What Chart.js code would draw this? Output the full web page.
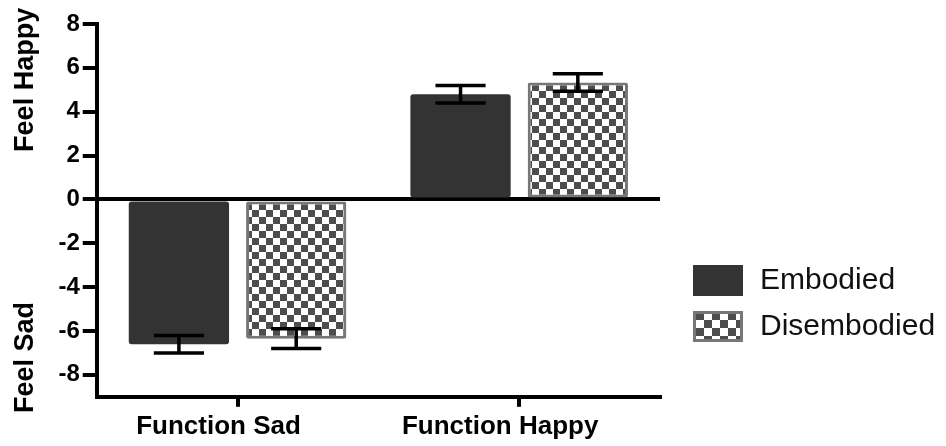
<!DOCTYPE html>
<html>
<head>
<meta charset="utf-8">
<script src="https://cdn.jsdelivr.net/npm/chart.js@4.4.1/dist/chart.umd.min.js"></script>
<style>
  html, body { margin: 0; padding: 0; background: #fff; }
  #wrap { width: 946px; height: 446px; }
</style>
</head>
<body>
<div id="wrap"><canvas id="chart" width="946" height="446"></canvas></div>
<script>
const categories = ['Function Sad', 'Function Happy'];
const embodied = [-6.6, 4.8];
const embodiedErr = [0.4, 0.4];
const disembodied = [-6.35, 5.33];
const disembodiedErr = [0.45, 0.4];
const yTicks = [-8, -6, -4, -2, 0, 2, 4, 6, 8];

function checker(size, dark) {
  const c = document.createElement('canvas');
  c.width = size * 2; c.height = size * 2;
  const g = c.getContext('2d');
  g.fillStyle = '#fff';
  g.fillRect(0, 0, size * 2, size * 2);
  g.fillStyle = dark;
  g.fillRect(0, 0, size, size);
  g.fillRect(size, size, size, size);
  return document.getElementById('chart').getContext('2d').createPattern(c, 'repeat');
}
const barPattern = checker(7, '#4d4d4d');
const legendPattern = checker(8, '#4d4d4d');

const errorBars = {
  id: 'errorBars',
  afterDatasetsDraw(chart) {
    const ctx = chart.ctx, y = chart.scales.y;
    const errs = [embodiedErr, disembodiedErr];
    ctx.save();
    ctx.strokeStyle = '#000';
    ctx.lineWidth = 3.5;
    chart.data.datasets.forEach((ds, i) => {
      chart.getDatasetMeta(i).data.forEach((bar, j) => {
        const v = ds.data[j], e = errs[i][j];
        const top = y.getPixelForValue(v + e), bot = y.getPixelForValue(v - e);
        const hw = bar.width * 0.25;
        ctx.beginPath();
        ctx.moveTo(bar.x, top); ctx.lineTo(bar.x, bot);
        ctx.moveTo(bar.x - hw, top); ctx.lineTo(bar.x + hw, top);
        ctx.moveTo(bar.x - hw, bot); ctx.lineTo(bar.x + hw, bot);
        ctx.stroke();
      });
    });
    ctx.restore();
  }
};

const sideLegend = {
  id: 'sideLegend',
  afterDraw(chart) {
    const ctx = chart.ctx;
    const x0 = chart.chartArea.right + 33;
    let y0 = 265;
    ctx.save();
    chart.data.datasets.forEach((ds, i) => {
      if (i === 0) {
        ctx.fillStyle = ds.backgroundColor;
        ctx.fillRect(x0, y0, 50, 31);
      } else {
        ctx.fillStyle = legendPattern;
        ctx.fillRect(x0, y0, 50, 31);
        ctx.strokeStyle = ds.borderColor;
        ctx.lineWidth = 3;
        ctx.strokeRect(x0 + 1.5, y0 + 1.5, 47, 28);
      }
      ctx.fillStyle = '#111';
      ctx.font = '30px "Liberation Sans", Arial, sans-serif';
      ctx.textBaseline = 'middle';
      ctx.fillText(ds.label, x0 + 67, y0 + 16);
      y0 += 46;
    });
    ctx.restore();
  }
};

new Chart(document.getElementById('chart'), {
  type: 'bar',
  data: {
    labels: categories,
    datasets: [
      {
        label: 'Embodied',
        data: embodied,
        backgroundColor: '#333333',
        borderWidth: 0,
        borderRadius: 3,
        borderSkipped: false
      },
      {
        label: 'Disembodied',
        data: disembodied,
        backgroundColor: barPattern,
        borderColor: '#777777',
        borderWidth: 3,
        borderRadius: 2,
        borderSkipped: false
      }
    ]
  },
  options: {
    responsive: false,
    animation: false,
    categoryPercentage: 0.833,
    barPercentage: 0.855,
    layout: { padding: { top: 24, right: 286, bottom: 0, left: 9 } },
    plugins: {
      legend: { display: false },
      tooltip: { enabled: false }
    },
    scales: {
      x: {
        grid: { display: true, drawOnChartArea: false, offset: false, tickLength: 10, lineWidth: 4, color: '#000' },
        border: { display: true, width: 4, color: '#000' },
        ticks: {
          color: '#000',
          padding: 4,
          labelOffset: -19,
          font: { family: '"Liberation Sans", Arial, sans-serif', size: 26, weight: 'bold' }
        }
      },
      y: {
        min: -9,
        max: 8,
        z: 1,
        afterBuildTicks: axis => { axis.ticks = yTicks.map(v => ({ value: v })); },
        grid: {
          drawOnChartArea: true,
          tickLength: 14,
          lineWidth: 4,
          color: c => (c.tick && c.tick.value === 0 ? '#000' : 'rgba(0,0,0,0)'),
          tickColor: '#000'
        },
        border: { display: true, width: 4, color: '#000' },
        title: {
          display: true,
          text: 'Feel Sad                    Feel Happy',
          color: '#000',
          padding: { top: 0, bottom: 14 },
          font: { family: '"Liberation Sans", Arial, sans-serif', size: 27, weight: 'bold' }
        },
        ticks: {
          color: '#000',
          padding: 3,
          font: { family: '"Liberation Sans", Arial, sans-serif', size: 24, weight: 'bold' }
        }
      }
    }
  },
  plugins: [errorBars, sideLegend]
});
</script>
</body>
</html>
